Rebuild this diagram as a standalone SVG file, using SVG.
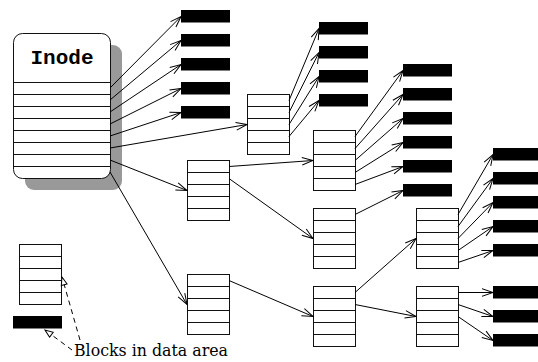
<svg xmlns="http://www.w3.org/2000/svg" width="538" height="362" viewBox="0 0 538 362">
<style>
.blk{fill:#fff;stroke:#111;stroke-width:1}
.sl{stroke:#111;stroke-width:1}
.dat{fill:#000}
.con line{stroke:#000;stroke-width:1;marker-end:url(#a)}
.leg line{stroke:#000;stroke-width:1;stroke-dasharray:5,4;marker-end:url(#t)}
</style>
<defs>
<marker id="a" viewBox="-12 -6 13 12" refX="0" refY="0" markerWidth="13" markerHeight="12" markerUnits="userSpaceOnUse" orient="auto">
<path d="M-11,-3.8 L0,0 L-11,3.8" fill="none" stroke="#000" stroke-width="1"/>
</marker>
<marker id="t" viewBox="-10 -5 11 10" refX="0" refY="0" markerWidth="11" markerHeight="10" markerUnits="userSpaceOnUse" orient="auto">
<path d="M-8,-3 L0,0 L-8,3 Z" fill="#fff" stroke="#000" stroke-width="1"/>
</marker>
<g id="pb">
<rect class="blk" x="0" y="0" width="42" height="60"/>
<path class="sl" d="M0,12 H42 M0,24 H42 M0,36 H42 M0,48 H42"/>
</g>
</defs>

<g id="inode">
<rect x="25" y="45" width="97" height="145" rx="9" fill="#999"/>
<rect x="13.5" y="33.5" width="97" height="145" rx="9" fill="#fff" stroke="#111"/>
<path class="sl" d="M13.5,82.5 H110.5 M13.5,94.5 H110.5 M13.5,106.5 H110.5 M13.5,118.5 H110.5 M13.5,130.5 H110.5 M13.5,142.5 H110.5 M13.5,154.5 H110.5 M13.5,166.5 H110.5"/>
<text x="62" y="64" font-family="'Liberation Mono', monospace" font-weight="bold" font-size="21" text-anchor="middle">Inode</text>
</g>

<g id="indirect"><use href="#pb" x="247.5" y="94.5"/></g>
<g id="double"><use href="#pb" x="187.5" y="160.5"/></g>
<g id="triple"><use href="#pb" x="187.5" y="274.5"/></g>
<g id="b1"><use href="#pb" x="313.5" y="130.5"/></g>
<g id="b2"><use href="#pb" x="313.5" y="208.5"/></g>
<g id="b3"><use href="#pb" x="313.5" y="286.5"/></g>
<g id="c1"><use href="#pb" x="416.5" y="208.5"/></g>
<g id="c2"><use href="#pb" x="416.5" y="286.5"/></g>

<g id="data-a">
<rect class="dat" x="181" y="10" width="49" height="12.5"/>
<rect class="dat" x="181" y="34" width="49" height="12.5"/>
<rect class="dat" x="181" y="58" width="49" height="12.5"/>
<rect class="dat" x="181" y="82" width="49" height="12.5"/>
<rect class="dat" x="181" y="106" width="49" height="12.5"/>
</g>
<g id="data-b">
<rect class="dat" x="319" y="22" width="49" height="12.5"/>
<rect class="dat" x="319" y="46" width="49" height="12.5"/>
<rect class="dat" x="319" y="70" width="49" height="12.5"/>
<rect class="dat" x="319" y="94" width="49" height="12.5"/>
</g>
<g id="data-c">
<rect class="dat" x="403" y="64" width="49" height="12.5"/>
<rect class="dat" x="403" y="88" width="49" height="12.5"/>
<rect class="dat" x="403" y="112" width="49" height="12.5"/>
<rect class="dat" x="403" y="136" width="49" height="12.5"/>
<rect class="dat" x="403" y="160" width="49" height="12.5"/>
<rect class="dat" x="403" y="184" width="49" height="12.5"/>
</g>
<g id="data-d">
<rect class="dat" x="493" y="148" width="49" height="12.5"/>
<rect class="dat" x="493" y="172" width="49" height="12.5"/>
<rect class="dat" x="493" y="196" width="49" height="12.5"/>
<rect class="dat" x="493" y="220" width="49" height="12.5"/>
<rect class="dat" x="493" y="244" width="49" height="12.5"/>
<rect class="dat" x="493" y="286" width="49" height="12.5"/>
<rect class="dat" x="493" y="310" width="49" height="12.5"/>
<rect class="dat" x="493" y="334" width="49" height="12.5"/>
</g>

<g id="connectors" class="con">
<line x1="110" y1="88" x2="181" y2="16.5"/>
<line x1="110" y1="100" x2="181" y2="40.5"/>
<line x1="110" y1="112" x2="181" y2="64.5"/>
<line x1="110" y1="124" x2="181" y2="88.5"/>
<line x1="110" y1="136" x2="181" y2="112.5"/>
<line x1="110" y1="148" x2="247" y2="124.5"/>
<line x1="110" y1="160" x2="187" y2="190.5"/>
<line x1="110" y1="172" x2="187" y2="304.5"/>
<line x1="289" y1="100.5" x2="319" y2="28.5"/>
<line x1="289" y1="112.5" x2="319" y2="52.5"/>
<line x1="289" y1="124.5" x2="319" y2="76.5"/>
<line x1="289" y1="136.5" x2="319" y2="100.5"/>
<line x1="229" y1="166.5" x2="313" y2="160.5"/>
<line x1="229" y1="178.5" x2="313" y2="238.5"/>
<line x1="229" y1="280.5" x2="313" y2="316.5"/>
<line x1="355" y1="136.5" x2="403" y2="70.5"/>
<line x1="355" y1="148.5" x2="403" y2="94.5"/>
<line x1="355" y1="160.5" x2="403" y2="118.5"/>
<line x1="355" y1="172.5" x2="403" y2="142.5"/>
<line x1="355" y1="184.5" x2="403" y2="166.5"/>
<line x1="355" y1="214.5" x2="403" y2="190.5"/>
<line x1="355" y1="292.5" x2="416" y2="238.5"/>
<line x1="355" y1="304.5" x2="416" y2="316.5"/>
<line x1="458" y1="214.5" x2="493" y2="154.5"/>
<line x1="458" y1="226.5" x2="493" y2="178.5"/>
<line x1="458" y1="238.5" x2="493" y2="202.5"/>
<line x1="458" y1="250.5" x2="493" y2="226.5"/>
<line x1="458" y1="262.5" x2="493" y2="250.5"/>
<line x1="458" y1="292.5" x2="493" y2="292.5"/>
<line x1="458" y1="304.5" x2="493" y2="316.5"/>
<line x1="458" y1="316.5" x2="493" y2="340.5"/>
</g>

<g id="legend">
<use href="#pb" x="19.5" y="244.5"/>
<rect class="dat" x="13" y="316" width="49" height="12.5"/>
<text x="74" y="356" font-family="'DejaVu Serif', 'Liberation Serif', serif" font-size="17" textLength="154" lengthAdjust="spacingAndGlyphs">Blocks in data area</text>
<g class="leg">
<line x1="80" y1="340" x2="62" y2="277"/>
<line x1="72" y1="350" x2="45" y2="330"/>
</g>
</g>
</svg>
